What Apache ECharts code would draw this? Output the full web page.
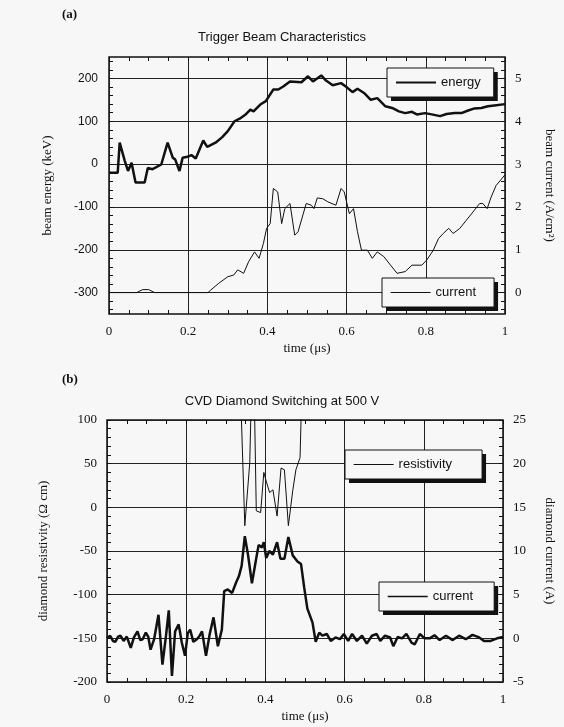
<!DOCTYPE html>
<html>
<head>
<meta charset="utf-8">
<title>Trigger Beam / CVD Diamond</title>
<script src="https://cdn.jsdelivr.net/npm/echarts@6.0.0/dist/echarts.min.js"></script>
<style>
html,body{margin:0;padding:0;background:#f7f7f7;}
#main{width:564px;height:727px;}
</style>
</head>
<body>
<div id="main"></div>
<script>
// (a) beam energy, keV
var energyT = [0, 0.022, 0.027, 0.04, 0.048, 0.057, 0.067, 0.09, 0.098, 0.11, 0.132, 0.148, 0.161, 0.167, 0.178, 0.186, 0.198, 0.208, 0.219, 0.238, 0.248, 0.269, 0.286, 0.3, 0.317, 0.33, 0.344, 0.357, 0.365, 0.382, 0.396, 0.415, 0.4275, 0.44, 0.457, 0.486, 0.5025, 0.515, 0.536, 0.548, 0.565, 0.586, 0.598, 0.615, 0.6275, 0.644, 0.661, 0.6775, 0.698, 0.715, 0.732, 0.748, 0.765, 0.7775, 0.798, 0.815, 0.836, 0.8525, 0.873, 0.89, 0.907, 0.923, 0.94, 0.957, 0.973, 1.0];
var energyV = [-20, -20, 50, 7, -16, 3, -43, -43, -9, -12, -1, 50, 15, 11, -16, 15, 17, 21, 13, 55, 40, 50, 63, 77, 100, 106, 115, 127, 123, 139, 147, 174, 174, 181, 193, 191, 205, 193, 207, 195, 184, 189, 181, 168, 176, 166, 150, 154, 135, 131, 123, 119, 122, 116, 119, 116, 112, 117, 119, 119, 125, 130, 131, 135, 137, 140];

// (a) beam current, A/cm2
var beamCurT = [0, 0.07, 0.085, 0.1, 0.115, 0.25, 0.257, 0.2775, 0.3, 0.315, 0.325, 0.34, 0.3525, 0.3675, 0.379, 0.39, 0.398, 0.407, 0.415, 0.426, 0.436, 0.444, 0.457, 0.469, 0.4775, 0.498, 0.511, 0.5175, 0.526, 0.54, 0.5525, 0.573, 0.586, 0.594, 0.607, 0.6175, 0.6275, 0.6375, 0.6525, 0.665, 0.6775, 0.682, 0.694, 0.711, 0.7275, 0.748, 0.765, 0.79, 0.8025, 0.819, 0.832, 0.844, 0.858, 0.869, 0.886, 0.9025, 0.919, 0.936, 0.944, 0.955, 0.965, 0.9775, 1.0];
var beamCurV = [0, 0, 0.07, 0.07, 0, 0, 0.06, 0.22, 0.37, 0.41, 0.53, 0.45, 0.72, 0.95, 0.8, 1.15, 1.5, 1.61, 2.43, 2.35, 1.61, 1.96, 2.08, 1.34, 1.42, 2.08, 2.04, 1.96, 2.21, 2.19, 2.12, 2.04, 2.43, 2.35, 1.84, 1.96, 1.42, 0.99, 0.99, 0.8, 0.95, 0.91, 0.84, 0.64, 0.45, 0.49, 0.64, 0.64, 0.76, 0.99, 1.26, 1.38, 1.5, 1.38, 1.5, 1.69, 1.88, 2.08, 2.08, 1.96, 2.23, 2.5, 2.75];

// (b) diamond resistivity, Ohm cm (160 = off scale, above the top)
var resT = [0, 0.336, 0.3395, 0.348, 0.3605, 0.363, 0.368, 0.373, 0.377, 0.388, 0.396, 0.402, 0.4105, 0.419, 0.4295, 0.4395, 0.448, 0.458, 0.469, 0.477, 0.4875, 0.49, 0.494, 1.0];
var resV = [160, 160, 100, -21, 51, 100, 160, 100, -4, -6, 40, 30, 17, 20, -10, 45, 43, -21, 19, 43, 57, 100, 160, 160];

// (b) diamond current, A
var diaCurT = [0, 0.008, 0.015, 0.021, 0.028, 0.034, 0.042, 0.05, 0.06, 0.068, 0.077, 0.084, 0.09, 0.098, 0.104, 0.11, 0.119, 0.13, 0.14, 0.149, 0.156, 0.164, 0.172, 0.181, 0.189, 0.197, 0.204, 0.21, 0.218, 0.227, 0.234, 0.24, 0.25, 0.259, 0.269, 0.28, 0.29, 0.296, 0.305, 0.31, 0.316, 0.326, 0.333, 0.34, 0.348, 0.356, 0.366, 0.377, 0.383, 0.391, 0.396, 0.402, 0.41, 0.419, 0.4295, 0.438, 0.448, 0.458, 0.469, 0.481, 0.49, 0.498, 0.506, 0.519, 0.527, 0.536, 0.544, 0.555, 0.565, 0.577, 0.588, 0.598, 0.609, 0.619, 0.631, 0.644, 0.656, 0.669, 0.681, 0.69, 0.702, 0.715, 0.723, 0.734, 0.745, 0.756, 0.769, 0.777, 0.79, 0.802, 0.815, 0.827, 0.84, 0.856, 0.873, 0.889, 0.906, 0.923, 0.94, 0.952, 0.969, 0.985, 1.0];
var diaCurV = [0, 0.3, -0.3, -0.4, 0.2, 0.3, -0.3, 0.2, -1.1, 0.1, 0.8, -0.2, -0.1, 0.65, 0.2, -1.3, -0.1, 2.7, -3, 0.3, 3.2, -4.3, 0.8, 1.6, -0.5, -2.0, 0.6, 1.0, -0.4, -0.1, 0.3, 0.8, -2.0, 0.4, 2.4, -0.9, 1.0, 5.4, 5.6, 5.8, 5.2, 6.4, 7.1, 8.3, 11.7, 9.6, 6.3, 9.2, 10.7, 10.4, 11.0, 9.2, 10.0, 9.6, 11.0, 9.1, 9.1, 11.6, 9.5, 8.8, 8.5, 5.8, 3.4, 1.8, -0.4, 0.65, 0.3, 0.5, -0.3, 0.1, -0.1, 0.5, -0.3, 0.5, -0.3, 0.3, -0.6, 0.3, 0.5, -0.3, 0.3, 0.1, -0.9, 0.15, 0, 0.5, -0.5, -0.7, 0.5, 0, 0, 0.35, -0.2, 0.3, -0.2, 0.3, -0.1, 0.4, 0.1, -0.3, -0.3, 0, 0.15];

// tick labels
var energyTicks = [-300, -200, -100, 0, 100, 200];
var beamCurTicks = [0, 1, 2, 3, 4, 5];

var INK = '#111';
var PAPER = '#f7f7f7';
var SERIF = 'Liberation Serif';
var SANS = 'Liberation Sans';

function pairs(t, v){
    var out = [];
    for (var i = 0; i < t.length; i++) out.push([t[i], v[i]]);
    return out;
}
// small tick positions, step given as 1/div
function minorList(from, to, div){
    var out = [];
    for (var i = Math.round(from * div); i <= Math.round(to * div); i++) out.push(i / div);
    return out;
}

function timeAxis(grid, pos, main){
    return {
        type: 'value', gridIndex: grid, position: pos, min: 0, max: 1, interval: 0.2,
        axisLine: {show: false, onZero: false},
        axisTick: {show: true, inside: true, length: 4, lineStyle: {color: INK, width: 1}},
        minorTick: {show: true, splitNumber: 4, length: 4, lineStyle: {color: INK, width: 1}},
        splitLine: {show: main, lineStyle: {color: '#222', width: 1}},
        axisLabel: {show: main, margin: 11, color: INK, fontFamily: SERIF, fontSize: 13},
        name: main ? 'time (\u03bcs)' : '', nameLocation: 'middle', nameGap: 28,
        nameTextStyle: {color: INK, fontFamily: SERIF, fontSize: 13}
    };
}

function nameStyle(){
    return {color: INK, fontFamily: SERIF, fontSize: 13};
}

// legend box; shadow=true gives the solid black copy drawn 4px lower right, under the real box
function boxLegend(name, left, top, pad, lineW, fmt, shadow){
    var lg = {
        data: [name], left: shadow ? left + 4 : left, top: shadow ? top + 4 : top, padding: pad,
        z: shadow ? 5 : 8,
        itemWidth: 40, itemHeight: 14, selectedMode: false,
        itemStyle: {color: 'rgba(0,0,0,0)', borderColor: 'rgba(0,0,0,0)', borderWidth: 0},
        lineStyle: {width: lineW},
        backgroundColor: shadow ? INK : PAPER,
        borderColor: INK, borderWidth: shadow ? 0 : 1, borderRadius: 0,
        textStyle: {color: INK, fontFamily: SANS, fontSize: 13}
    };
    if (fmt) lg.formatter = fmt;
    return lg;
}
var curLabel = function(){ return 'current'; };

var chart = echarts.init(document.getElementById('main'), null, {renderer: 'canvas'});

var option = {
    backgroundColor: PAPER,
    animation: false,
    title: [
        {text: '(a)', left: 62, top: 8, padding: 0, textStyle: {fontFamily: SERIF, fontSize: 13, fontWeight: 'bold', color: INK}},
        {text: 'Trigger Beam Characteristics', left: 282, top: 31, padding: 0, textAlign: 'center', textStyle: {fontFamily: SANS, fontSize: 13, fontWeight: 'normal', color: INK}},
        {text: '(b)', left: 62, top: 373, padding: 0, textStyle: {fontFamily: SERIF, fontSize: 13, fontWeight: 'bold', color: INK}},
        {text: 'CVD Diamond Switching at 500 V', left: 282, top: 395, padding: 0, textAlign: 'center', textStyle: {fontFamily: SANS, fontSize: 13, fontWeight: 'normal', color: INK}}
    ],
    grid: [
        {left: 109, top: 57, width: 399, height: 257, containLabel: false, show: true, borderColor: INK, borderWidth: 1.5, backgroundColor: 'transparent'},
        {left: 107, top: 420, width: 401, height: 262, containLabel: false, show: true, borderColor: INK, borderWidth: 1.5, backgroundColor: 'transparent'}
    ],
    legend: [
        boxLegend('energy', 387, 68, [8, 13, 8, 8], 2, null, true),
        boxLegend('current', 382, 278, [8, 18, 8, 8], 1.2, null, true),
        boxLegend('resistivity', 345, 450, [8, 30, 8, 8], 1.2, null, true),
        boxLegend('current (b)', 379, 582, [8, 21, 8, 8], 1.4, curLabel, true),
        boxLegend('energy', 387, 68, [8, 13, 8, 8], 2, null, false),
        boxLegend('current', 382, 278, [8, 18, 8, 8], 1.2, null, false),
        boxLegend('resistivity', 345, 450, [8, 30, 8, 8], 1.2, null, false),
        boxLegend('current (b)', 379, 582, [8, 21, 8, 8], 1.4, curLabel, false)
    ],
    xAxis: [
        timeAxis(0, 'bottom', true),
        timeAxis(0, 'top', false),
        timeAxis(1, 'bottom', true),
        timeAxis(1, 'top', false)
    ],
    yAxis: [
        // 0: beam energy (left)
        {
            type: 'value', gridIndex: 0, position: 'left', min: -350, max: 250,
            axisLine: {show: false, onZero: false},
            axisTick: {show: true, inside: true, length: 4, customValues: minorList(-340, 240, 0.05), lineStyle: {color: INK}},
            axisLabel: {show: true, margin: 11, customValues: energyTicks, color: INK, fontFamily: SANS, fontSize: 12},
            splitLine: {show: false},
            name: 'beam energy (keV)', nameLocation: 'middle', nameGap: 55, nameTextStyle: nameStyle()
        },
        // 1: beam current (right)
        {
            type: 'value', gridIndex: 0, position: 'right', min: -0.5, max: 5.5,
            axisLine: {show: false, onZero: false},
            axisTick: {show: true, inside: true, length: 4, customValues: minorList(-0.4, 5.4, 5), lineStyle: {color: INK}},
            axisLabel: {show: true, margin: 10, customValues: beamCurTicks, color: INK, fontFamily: SERIF, fontSize: 13},
            splitLine: {show: false},
            name: 'beam current (A/cm\u00b2)', nameLocation: 'middle', nameRotate: -90, nameGap: 38, nameTextStyle: nameStyle()
        },
        // 2: only the horizontal grid lines of (a)
        {
            type: 'value', gridIndex: 0, position: 'left', min: -350, max: 250,
            axisLine: {show: false, onZero: false},
            axisTick: {show: false, customValues: energyTicks},
            axisLabel: {show: false},
            splitLine: {show: true, lineStyle: {color: '#222', width: 1}}
        },
        // 3: resistivity (left)
        {
            type: 'value', gridIndex: 1, position: 'left', min: -200, max: 100, interval: 50,
            axisLine: {show: false, onZero: false},
            axisTick: {show: true, inside: true, length: 4, lineStyle: {color: INK}},
            minorTick: {show: true, splitNumber: 5, length: 4, lineStyle: {color: INK}},
            axisLabel: {show: true, margin: 10, color: INK, fontFamily: SERIF, fontSize: 13},
            splitLine: {show: true, lineStyle: {color: '#222', width: 1}},
            name: 'diamond resistivity (\u03a9 cm)', nameLocation: 'middle', nameGap: 57, nameTextStyle: nameStyle()
        },
        // 4: diamond current (right)
        {
            type: 'value', gridIndex: 1, position: 'right', min: -5, max: 25, interval: 5,
            axisLine: {show: false, onZero: false},
            axisTick: {show: true, inside: true, length: 4, lineStyle: {color: INK}},
            minorTick: {show: true, splitNumber: 5, length: 4, lineStyle: {color: INK}},
            axisLabel: {show: true, margin: 10, color: INK, fontFamily: SERIF, fontSize: 13},
            splitLine: {show: false},
            name: 'diamond current (A)', nameLocation: 'middle', nameRotate: -90, nameGap: 40, nameTextStyle: nameStyle()
        }
    ],
    series: [
        {name: 'energy', type: 'line', xAxisIndex: 0, yAxisIndex: 0, symbol: 'none', color: INK,
            lineStyle: {color: INK, width: 2.5}, data: pairs(energyT, energyV)},
        {name: 'current', type: 'line', xAxisIndex: 0, yAxisIndex: 1, symbol: 'none', color: INK,
            lineStyle: {color: INK, width: 1}, data: pairs(beamCurT, beamCurV)},
        {name: 'resistivity', type: 'line', xAxisIndex: 2, yAxisIndex: 3, symbol: 'none', color: INK, clip: true,
            lineStyle: {color: INK, width: 1}, data: pairs(resT, resV)},
        {name: 'current (b)', type: 'line', xAxisIndex: 2, yAxisIndex: 4, symbol: 'none', color: INK,
            lineStyle: {color: INK, width: 2.5}, data: pairs(diaCurT, diaCurV)}
    ]
};

chart.setOption(option);
</script>
</body>
</html>
